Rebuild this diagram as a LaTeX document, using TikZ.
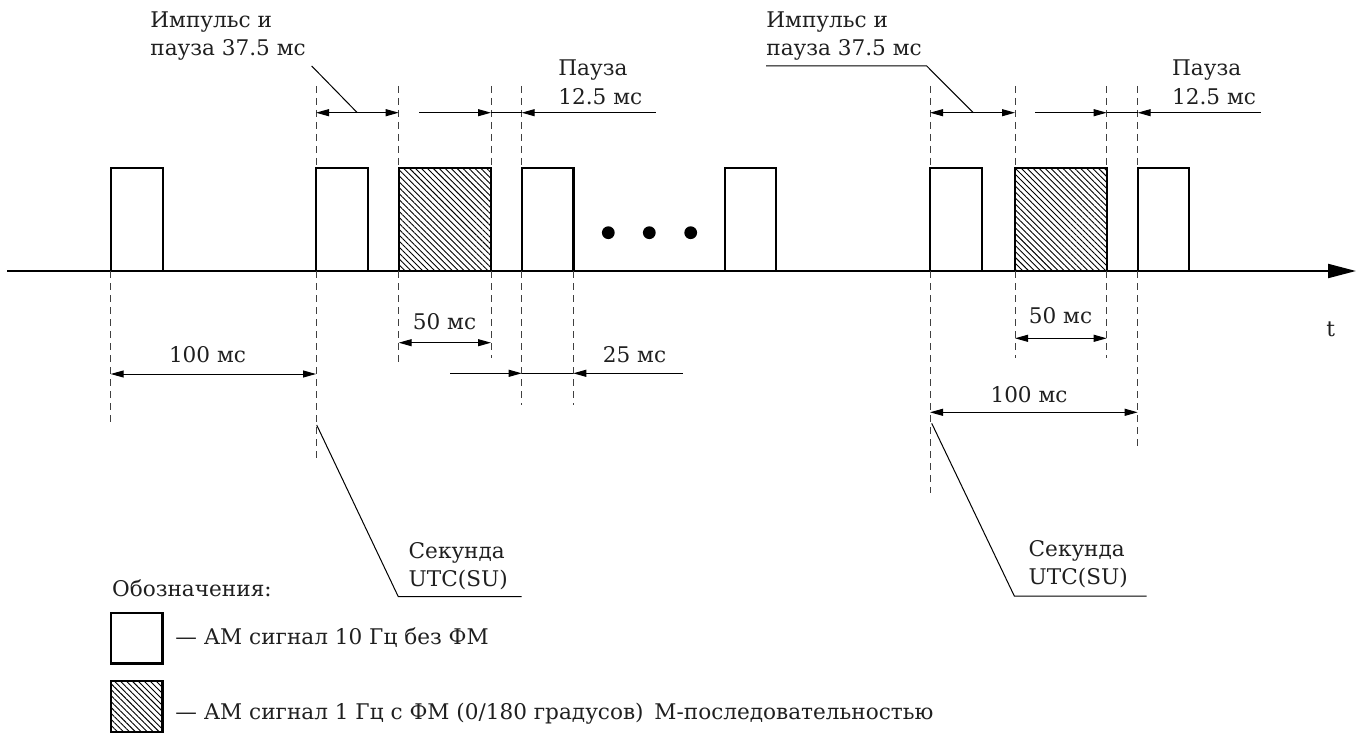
\documentclass[tikz,border=0pt]{standalone}
\usepackage{fontspec}
\setmainfont{DejaVu Serif}
\usetikzlibrary{positioning,arrows.meta,patterns.meta}

\begin{document}
\begin{tikzpicture}[
  x=0.5pt,y=-0.5pt,
  lbl/.style={font=\fontsize{10.8}{14.3}\selectfont,inner sep=0pt,align=left,text=black!88},
  pulse/.style={line width=1.2pt,line join=miter},
  hatch/.style={pattern={Lines[angle=-45,distance=2.1pt,line width=0.45pt]}},
  guide/.style={dash pattern=on 3.5pt off 2.5pt,line width=0.5pt,black!75},
  dim/.style={line width=0.5pt},
  >={Triangle[length=6.5pt,width=3.5pt]}]
\useasboundingbox (0,0) rectangle (1360,733);

% time axis
\draw[line width=1pt,-{Triangle[length=14pt,width=7pt]}] (7,271) -- (1356,271);
\node[lbl,anchor=west] (t) at (1326,329) {t};

% pulses
\foreach \a/\b in {110.7/162.7,316/368,521.7/573.3,725/776,930/981.7,1137.7/1189}
  \draw[pulse] (\a,271) -- (\a,168) -- (\b,168) -- (\b,271);
\foreach \a/\b in {398.7/491,1015/1106.7}{
  \fill[hatch] (\a,168) rectangle (\b,271);
  \draw[pulse] (\a,271) -- (\a,168) -- (\b,168) -- (\b,271);
}
\foreach \x in {608.3,649.3,690.7}
  \fill (\x,232.7) circle (3.2pt);

% guide lines
\foreach \x in {316,398.7,491,521.7,930,1015,1106.7,1137.7}
  \draw[guide] (\x,86) -- (\x,168);
\foreach \x/\y in {110.7/423,316/461.7,398.7/363,491/358,521.7/405,573.3/405,
                   930/493,1015/358,1106.7/358,1137.7/446.7}
  \draw[guide] (\x,271) -- (\x,\y);

% upper labels
\node[lbl,anchor=west] (imp1) at (150,36) {Импульс и\\пауза 37.5 мс};
\node[lbl,anchor=west] (imp2) at (766,36) {Импульс и\\пауза 37.5 мс};
\node[lbl,anchor=west] (pau1) at (558,82) {Пауза\\12.5 мс};
\node[lbl,anchor=west] (pau2) at (1171.7,82) {Пауза\\12.5 мс};

\draw[dim,<->] (316,112.7) -- (398.7,112.7);
\draw[dim,->] (419,112.7) -- (491,112.7);
\draw[dim] (491,112.7) -- (521.7,112.7);
\draw[dim,<-] (521.7,112.7) -- (655.7,112.7);
\draw[dim] (311.7,66) -- (357.3,112.7);

\draw[dim,<->] (930,112.7) -- (1015,112.7);
\draw[dim,->] (1035,112.7) -- (1106.7,112.7);
\draw[dim] (1106.7,112.7) -- (1137.7,112.7);
\draw[dim,<-] (1137.7,112.7) -- (1261,112.7);
\draw[dim] (766,66) -- (926.7,66) -- (973.3,112.7);

% lower labels
\node[lbl] (d100a) at (207.5,355) {100 мс};
\node[lbl] (d50a) at (444.5,321.7) {50 мс};
\node[lbl] (d25) at (634.5,355) {25 мс};
\node[lbl] (d50b) at (1060.5,316) {50 мс};
\node[lbl] (d100b) at (1029,395) {100 мс};

\draw[dim,<->] (110.7,374) -- (316,374);
\draw[dim,<->] (398.7,342.7) -- (491,342.7);
\draw[dim,->] (450,373.3) -- (521.7,373.3);
\draw[dim] (521.7,373.3) -- (573.3,373.3);
\draw[dim,<-] (573.3,373.3) -- (683.3,373.3);
\draw[dim,<->] (1015,338.3) -- (1106.7,338.3);
\draw[dim,<->] (930,412.3) -- (1137.7,412.3);

% second marks
\node[lbl,anchor=west] (sec1) at (408.3,566) {Секунда\\UTC(SU)};
\node[lbl,anchor=west] (sec2) at (1028.3,564) {Секунда\\UTC(SU)};
\draw[dim] (316.7,425) -- (398.3,596.7) -- (521.7,596.7);
\draw[dim] (931.7,423.3) -- (1014.3,596) -- (1146.7,596);

% legend
\node[lbl,anchor=west] (leg) at (111.7,588) {Обозначения:};
\draw[pulse] (110.7,612.7) rectangle (162.3,663.3);
\fill[hatch] (110.7,681) rectangle (162.3,731.7);
\draw[pulse] (110.7,681) rectangle (162.3,731.7);
\node[lbl,anchor=west] (leg1) at (175,638) {— АМ сигнал 10 Гц без ФМ};
\node[lbl,anchor=west] (leg2) at (175,713.3) {— АМ сигнал 1 Гц с ФМ (0/180 градусов)\hspace{0.5em}М-последовательностью};
\end{tikzpicture}
\end{document}
